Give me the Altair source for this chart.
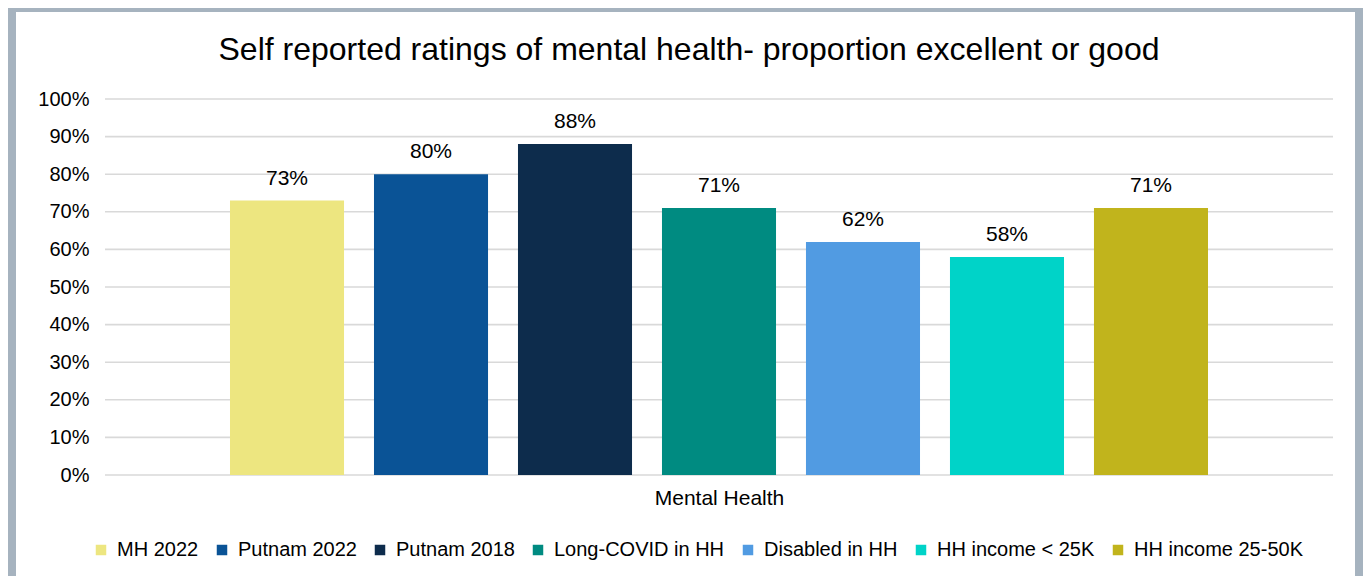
import altair as alt
import pandas as pd

# ---- data ----
series = ["MH 2022", "Putnam 2022", "Putnam 2018", "Long-COVID in HH",
          "Disabled in HH", "HH income < 25K", "HH income 25-50K"]
values = [0.73, 0.80, 0.88, 0.71, 0.62, 0.58, 0.71]
labels = ["73%", "80%", "88%", "71%", "62%", "58%", "71%"]
colors = ["#EDE680", "#0A5396", "#0D2C4C", "#008B81", "#519BE2", "#00D3C8", "#C1B41C"]
y_ticks = [0.0, 0.1, 0.2, 0.3, 0.4, 0.5, 0.6, 0.7, 0.8, 0.9, 1.0]
group_label = "Mental Health"
title_text = "Self reported ratings of mental health- proportion excellent or good"

df = pd.DataFrame({"series": series, "value": values, "label": labels})
grid_df = pd.DataFrame({"value": y_ticks})
card_df = pd.DataFrame({"a": [0]})

W, H = 1228, 376
FONT = "Liberation Sans"

x_enc = alt.X(
    "series:N", sort=series,
    scale=alt.Scale(domain=series, paddingInner=0.208, paddingOuter=0.868),
    axis=alt.Axis(title=group_label, labels=False, ticks=False, domain=False,
                  titleFont=FONT, titleFontSize=21, titleFontWeight="normal",
                  titleColor="#000000", titlePadding=12, zindex=1),
)
y_axis = alt.Axis(format=".0%", values=y_ticks, grid=False, domain=False, ticks=False,
                  labelFont=FONT, labelFontSize=20, labelColor="#000000",
                  labelPadding=16, labelOverlap=False, title=None, zindex=1)
y_enc = alt.Y("value:Q", scale=alt.Scale(domain=[0, 1]), axis=y_axis)

card = alt.Chart(card_df).mark_rect(color="white").encode(
    x=alt.value(-89), x2=alt.value(1250), y=alt.value(-87), y2=alt.value(H + 300)
)

grid = alt.Chart(grid_df).mark_rule(color="#D9D9D9", strokeWidth=1.6).encode(y=y_enc)

bars = alt.Chart(df).mark_bar().encode(
    x=x_enc,
    y=y_enc,
    color=alt.Color(
        "series:N",
        scale=alt.Scale(domain=series, range=colors),
        legend=alt.Legend(orient="none", legendX=-14, legendY=441, direction="horizontal",
                          columns=7, title=None, symbolType="square", symbolSize=110,
                          symbolStrokeWidth=0, labelFont=FONT, labelFontSize=20,
                          labelColor="#000000", labelLimit=400, columnPadding=13,
                          labelOffset=6),
    ),
)

text = alt.Chart(df).mark_text(dy=-16, baseline="alphabetic", fontSize=21, font=FONT,
                               color="#000000").encode(
    x=alt.X("series:N", sort=series),
    y=y_enc,
    text="label:N",
)

chart = alt.layer(card, grid, bars, text).properties(
    width=W, height=H,
    title=alt.TitleParams(title_text, font=FONT, fontSize=32, fontWeight="normal",
                          color="#000000", anchor="middle", offset=0, dy=55, dx=-30),
    autosize=alt.AutoSizeParams(type="none"),
    padding={"left": 97, "top": 91, "right": 30, "bottom": 101},
    background="#A6B3BF",
).configure_view(stroke=None)

chart.save("out.html", embed_options={"renderer": "svg", "actions": False})
